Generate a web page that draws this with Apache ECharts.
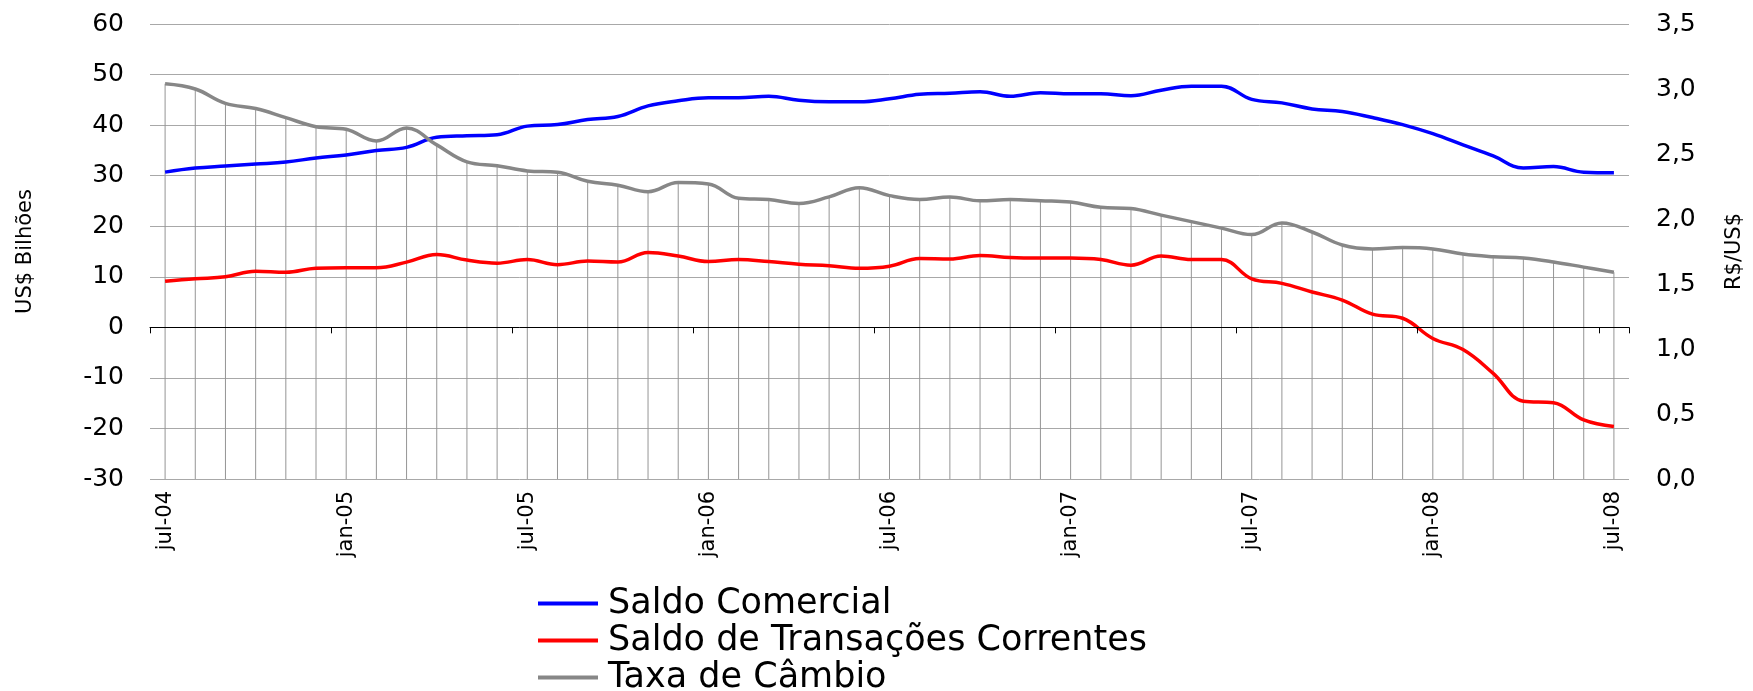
<!DOCTYPE html>
<html>
<head>
<meta charset="utf-8">
<title>Saldo Comercial, Transações Correntes e Câmbio</title>
<script src="https://cdn.jsdelivr.net/npm/echarts@6/dist/echarts.min.js"></script>
<style>
  html, body { margin: 0; padding: 0; background: #fff; }
  #container { width: 1753px; height: 691px; }
</style>
</head>
<body>
<div id="container"></div>
<script>
var months = [
  'jul-04','ago-04','set-04','out-04','nov-04','dez-04',
  'jan-05','fev-05','mar-05','abr-05','mai-05','jun-05',
  'jul-05','ago-05','set-05','out-05','nov-05','dez-05',
  'jan-06','fev-06','mar-06','abr-06','mai-06','jun-06',
  'jul-06','ago-06','set-06','out-06','nov-06','dez-06',
  'jan-07','fev-07','mar-07','abr-07','mai-07','jun-07',
  'jul-07','ago-07','set-07','out-07','nov-07','dez-07',
  'jan-08','fev-08','mar-08','abr-08','mai-08','jun-08',
  'jul-08'
];

// US$ bilhoes, acumulado 12 meses
var saldoComercial = [
  30.7, 31.5, 31.9, 32.3, 32.7, 33.5, 34.1, 35.0, 35.6, 37.6, 37.9, 38.1,
  39.8, 40.1, 41.1, 41.7, 43.8, 44.8, 45.4, 45.4, 45.7, 44.9, 44.6, 44.6,
  45.2, 46.1, 46.3, 46.6, 45.7, 46.4, 46.2, 46.2, 45.8, 46.9, 47.7, 47.7,
  45.1, 44.4, 43.2, 42.7, 41.5, 40.1, 38.3, 36.1, 33.9, 31.5, 31.8, 30.7,
  30.6
];
var transacoesCorrentes = [
  9.1, 9.6, 10.0, 11.1, 10.9, 11.7, 11.8, 11.8, 12.9, 14.4, 13.3, 12.7,
  13.4, 12.4, 13.1, 12.9, 14.8, 14.1, 13.0, 13.4, 13.0, 12.5, 12.2, 11.7,
  12.1, 13.6, 13.5, 14.2, 13.8, 13.7, 13.7, 13.4, 12.3, 14.1, 13.4, 13.4,
  9.6, 8.7, 7.0, 5.4, 2.6, 1.8, -2.2, -4.4, -9.1, -14.6, -14.9, -18.3,
  -19.6
];
// R$/US$
var taxaCambio = [
  3.04, 3.00, 2.89, 2.85, 2.78, 2.71, 2.69, 2.60, 2.70, 2.57, 2.44, 2.41,
  2.37, 2.36, 2.29, 2.26, 2.21, 2.28, 2.27, 2.16, 2.15, 2.12, 2.17, 2.24,
  2.18, 2.15, 2.17, 2.14, 2.15, 2.14, 2.13, 2.09, 2.08, 2.03, 1.98, 1.93,
  1.88, 1.97, 1.90, 1.80, 1.77, 1.78, 1.77, 1.73, 1.71, 1.70, 1.67, 1.63,
  1.59
];

var font = 'DejaVu Sans';
var myChart = echarts.init(document.getElementById('container'));

var option = {
  animation: false,
  backgroundColor: '#fff',
  grid: {
    left: 150,
    right: 117,
    top: 24,
    height: 455
  },
  legend: {
    orient: 'vertical',
    left: 538,
    top: 585,
    height: 130,
    padding: 0,
    itemGap: 0,
    itemWidth: 60,
    itemHeight: 4,
    icon: 'rect',
    textStyle: {
      fontFamily: font,
      fontSize: 35,
      lineHeight: 37,
      color: '#000',
      padding: [0, 0, 0, 5]
    },
    data: ['Saldo Comercial', 'Saldo de Transações Correntes', 'Taxa de Câmbio']
  },
  xAxis: [{
    type: 'category',
    data: months,
    boundaryGap: true,
    axisLine: { show: false, onZero: false },
    axisTick: { show: false },
    splitLine: { show: false },
    axisLabel: {
      interval: 5,
      rotate: 90,
      margin: 12,
      fontFamily: font,
      fontSize: 21,
      color: '#000'
    }
  }, {
    // linha do zero com as marcas semestrais
    type: 'category',
    data: months,
    boundaryGap: true,
    position: 'bottom',
    z: 5,
    axisLine: {
      onZero: true,
      onZeroAxisIndex: 0,
      lineStyle: { color: '#000', width: 1 }
    },
    axisTick: {
      show: true,
      interval: 5,
      length: 6,
      lineStyle: { color: '#000' }
    },
    axisLabel: { show: false },
    splitLine: { show: false }
  }],
  yAxis: [{
    type: 'value',
    min: -30,
    max: 60,
    interval: 10,
    name: 'US$ Bilhões',
    nameLocation: 'middle',
    nameGap: 114,
    nameRotate: 90,
    nameTextStyle: { fontFamily: font, fontSize: 21, color: '#000' },
    axisLine: { show: false },
    axisTick: { show: false },
    axisLabel: {
      margin: 26,
      fontFamily: font,
      fontSize: 25,
      color: '#000'
    },
    splitLine: { lineStyle: { color: '#a8a8a8', width: 1 } }
  }, {
    type: 'value',
    min: 0,
    max: 3.5,
    interval: 0.5,
    position: 'right',
    name: 'R$/US$',
    nameLocation: 'middle',
    nameGap: 95,
    nameRotate: 90,
    nameTextStyle: { fontFamily: font, fontSize: 21, color: '#000' },
    axisLine: { show: false },
    axisTick: { show: false },
    axisLabel: {
      margin: 27,
      fontFamily: font,
      fontSize: 25,
      color: '#000',
      formatter: function (v) {
        return v.toFixed(1).replace('.', ',');
      }
    },
    splitLine: { show: false }
  }],
  series: [{
    // linhas de queda da taxa de cambio
    name: 'queda',
    type: 'bar',
    yAxisIndex: 1,
    data: taxaCambio,
    barWidth: 1,
    z: 1,
    silent: true,
    itemStyle: { color: '#959595' }
  }, {
    name: 'Saldo Comercial',
    type: 'line',
    data: saldoComercial,
    smooth: 0.4,
    showSymbol: false,
    z: 3,
    itemStyle: { color: '#0000ff' },
    lineStyle: { color: '#0000ff', width: 3.5 }
  }, {
    name: 'Saldo de Transações Correntes',
    type: 'line',
    data: transacoesCorrentes,
    smooth: 0.4,
    showSymbol: false,
    z: 3,
    itemStyle: { color: '#ff0000' },
    lineStyle: { color: '#ff0000', width: 3.5 }
  }, {
    name: 'Taxa de Câmbio',
    type: 'line',
    yAxisIndex: 1,
    data: taxaCambio,
    smooth: 0.4,
    showSymbol: false,
    z: 3,
    itemStyle: { color: '#878787' },
    lineStyle: { color: '#878787', width: 3.5 }
  }]
};

myChart.setOption(option);
</script>
</body>
</html>
